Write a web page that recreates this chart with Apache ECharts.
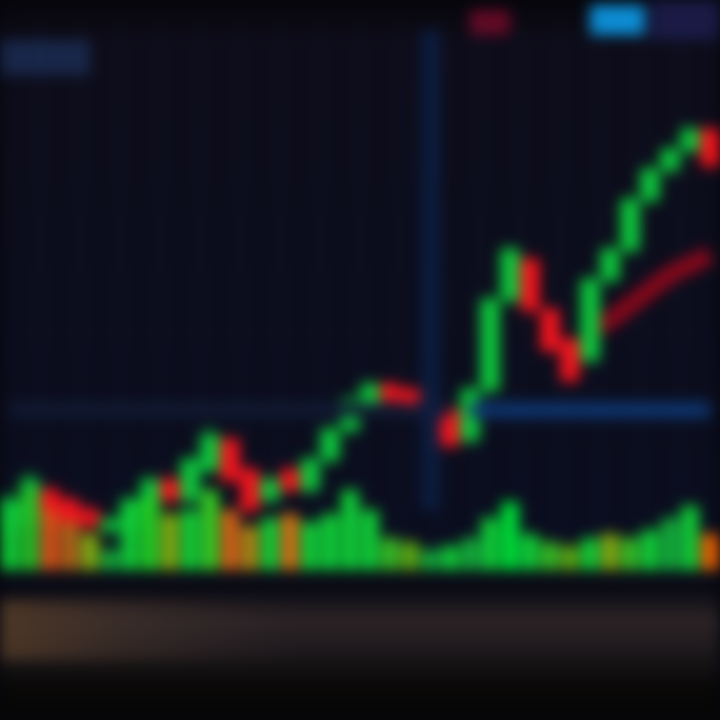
<!DOCTYPE html>
<html><head><meta charset="utf-8">
<script src="https://cdn.jsdelivr.net/npm/echarts@6/dist/echarts.min.js"></script>
<style>
html,body{margin:0;padding:0;background:#05060c;}
#c{width:720px;height:720px;filter:blur(7px) saturate(1.15);}
</style></head><body>
<div id="c"></div>
<script>
const categories = Array.from({length:36}, (_, i) => 'D' + (i + 1));
// [open, close, low, high]
const candles = [
  [8,14,6,16],[10,18,8,20],[16,10,8,17],[14,8,6,15],[12,9,7,13],[8,10,6,11],
  [8,14,6,15],[12,18,10,19],[18,14,13,19],[14,22,13,23],[20,27,19,29],[26,18,17,27],
  [20,12,11,21],[14,18,13,19],[20,16,15,21],[16,22,15,23],[22,28,21,29],[28,34,27,35],
  [32,37,31,38],[37,34,33,38],[36,32,31,37],[34,30,29,35],[32,25,24,33],[26,36,25,37],
  [36,54,35,55],[54,64,53,65],[62,52,51,63],[52,44,43,53],[46,38,37,47],[42,58,41,59],
  [58,64,57,65],[64,74,63,75],[74,80,73,81],[80,84,79,85],[84,88,83,89],[88,81,80,89]
];
const maLine = [null,null,null,null,null,null,null,null,null,null,null,null,
  null,null,null,null,null,null,null,null,null,null,null,null,
  null,null,null,null,null,48,50,53,56,59,61,63];
const volumes = [12,20,15,12,9,5,16,18,14,15,20,15,11,13,14,12,14,20,15,8,7,5,6,8,
  13,17,9,7,6,8,9,8,10,13,16,9];
const volColors = ['#22cc44','#33bb33','#cc5522','#aa6622','#88aa22','#22aa44','#22cc44','#33cc33','#88aa22','#22cc44','#44cc33','#cc6622',
  '#aa8822','#22cc44','#cc7722','#22cc44','#22cc44','#22cc44','#22cc44','#44bb33','#66aa22','#22aa44','#22cc44','#22aa44',
  '#22cc44','#11dd44','#22cc44','#44bb33','#66aa22','#22cc44','#88aa22','#44bb33','#22cc44','#22aa44','#22cc44','#dd6611'];

const chart = echarts.init(document.getElementById('c'));
chart.setOption({
  backgroundColor: {type:'linear',x:0,y:0,x2:0,y2:1,colorStops:[
    {offset:0,color:'#07060a'},{offset:0.06,color:'#0d0c18'},{offset:0.78,color:'#0a0d1c'},
    {offset:0.82,color:'#0a0a12'},{offset:0.86,color:'#2b2426'},{offset:0.9,color:'#1e1a1e'},
    {offset:0.95,color:'#0a0908'},{offset:1,color:'#050505'}]},
  animation:false,
  graphic:[
    {type:'rect',shape:{x:0,y:40,width:90,height:35},style:{fill:'#1a2644'},z:0},
    {type:'rect',shape:{x:470,y:10,width:40,height:25},style:{fill:'#5a0c24'},z:0},
    {type:'rect',shape:{x:590,y:5,width:55,height:30},style:{fill:'#1a8ac8'},z:0},
    {type:'rect',shape:{x:650,y:0,width:70,height:40},style:{fill:'#1a1a40'},z:0},
    {type:'rect',shape:{x:0,y:600,width:300,height:60},style:{fill:{type:'linear',x:0,y:0,x2:1,y2:0,colorStops:[{offset:0,color:'rgba(90,65,45,0.7)'},{offset:1,color:'rgba(60,50,50,0.0)'}]}},z:0}
  ],
  grid:[
    {left:0,right:0,top:20,height:550},
    {left:0,right:0,top:470,height:100}
  ],
  xAxis:[
    {type:'category',data:categories,gridIndex:0,boundaryGap:true,axisLine:{show:false},axisTick:{show:false},axisLabel:{show:false},
     splitLine:{show:true,lineStyle:{color:'rgba(40,55,90,0.3)',width:2}}},
    {type:'category',data:categories,gridIndex:1,boundaryGap:true,axisLine:{show:false},axisTick:{show:false},axisLabel:{show:false},splitLine:{show:false}}
  ],
  yAxis:[
    {type:'value',gridIndex:0,min:0,max:110,axisLine:{show:false},axisLabel:{show:false},splitLine:{show:false}},
    {type:'value',gridIndex:1,min:0,max:25,axisLine:{show:false},axisLabel:{show:false},splitLine:{show:false}}
  ],
  series:[
    {type:'candlestick',xAxisIndex:0,yAxisIndex:0,data:candles,barWidth:'85%',
     itemStyle:{color:'#1fc448',color0:'#e01a22',borderColor:'#1fc448',borderColor0:'#e01a22',borderWidth:2},
     markLine:{symbol:['none','none'],silent:true,label:{show:false},data:[
       [{coord:['D1',32],lineStyle:{color:'#121a30',width:14,type:'solid'}},{coord:['D23',32]}],
       [{coord:['D24',32],lineStyle:{color:'#123466',width:16,type:'solid'}},{coord:['D36',32]}],
       [{coord:['D22',12],lineStyle:{color:'#0d1c3a',width:18,type:'solid'}},{coord:['D22',108]}]
     ]},
     z:3},
    {type:'line',xAxisIndex:0,yAxisIndex:0,data:maLine,symbol:'none',smooth:true,
     lineStyle:{color:'#7a0c1c',width:18},z:2},
    {type:'bar',xAxisIndex:1,yAxisIndex:1,data:volumes.map((v,i)=>({value:v,itemStyle:{color:volColors[i]}})),barWidth:'85%',z:4}
  ]
});
</script>
</body></html>
